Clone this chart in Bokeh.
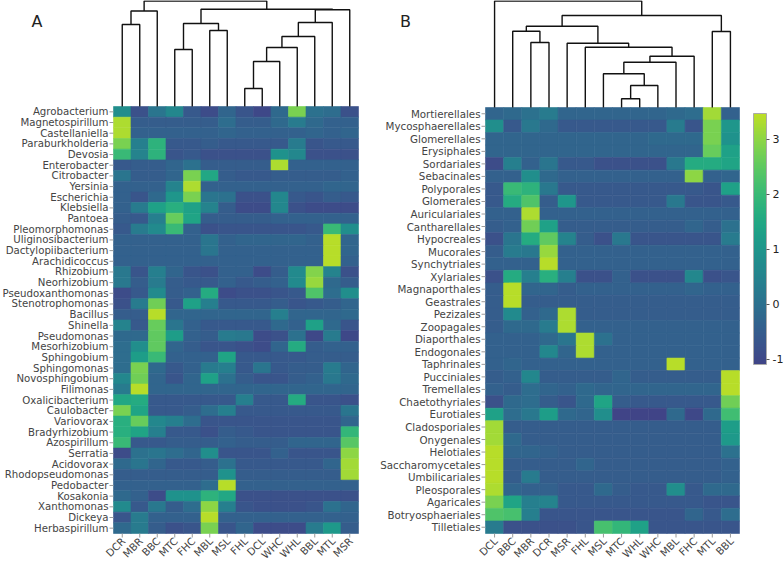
import math
from bokeh.plotting import figure
from bokeh.layouts import row
from bokeh.models import LinearColorMapper, ColorBar, FixedTicker, ColumnDataSource, Range1d
from bokeh.palettes import Viridis256
from bokeh.core.properties import value
from bokeh.embed import file_html
from bokeh.resources import INLINE

# ---------------- data: panel A (bacteria) ----------------
a_cols = ["DCR", "MBR", "BBC", "MTC", "FHC", "MBL", "MSL", "FHL", "DCL", "WHC", "WHL", "BBL", "MTL", "MSR"]
a_rows = ["Agrobacterium", "Magnetospirillum", "Castellaniella", "Paraburkholderia", "Devosia",
          "Enterobacter", "Citrobacter", "Yersinia", "Escherichia", "Klebsiella", "Pantoea",
          "Pleomorphomonas", "Uliginosibacterium", "Dactylopiibacterium", "Arachidicoccus",
          "Rhizobium", "Neorhizobium", "Pseudoxanthomonas", "Stenotrophomonas", "Bacillus",
          "Shinella", "Pseudomonas", "Mesorhizobium", "Sphingobium", "Sphingomonas",
          "Novosphingobium", "Filimonas", "Oxalicibacterium", "Caulobacter", "Variovorax",
          "Bradyrhizobium", "Azospirillum", "Serratia", "Acidovorax", "Rhodopseudomonas",
          "Pedobacter", "Kosakonia", "Xanthomonas", "Dickeya", "Herbaspirillum"]
a_vals = [
    [0.8, -0.8, 0.1, 0.6, -0.6, -0.9, -0.3, -0.7, -1.0, -0.2, 2.8, 0.0, -0.1, -0.8],
    [3.3, -0.5, -0.5, -0.5, -0.5, -0.5, -0.1, -0.5, -0.5, -0.2, 0.3, -0.2, -0.4, -0.4],
    [3.3, -0.4, -0.4, -0.4, -0.4, -0.4, -0.3, -0.4, -0.4, -0.4, -0.4, -0.3, -0.4, -0.3],
    [2.8, 0.4, 1.8, -0.6, -0.6, -0.5, -0.6, -0.6, -0.6, -0.6, 0.3, -0.7, -0.6, -0.6],
    [2.0, 0.5, 1.8, -0.7, -0.6, -0.8, -0.8, -0.8, -0.8, 0.9, 0.6, -0.8, -0.8, -0.8],
    [-0.6, -0.5, -0.5, -0.3, 0.0, -0.5, -0.5, -0.5, -0.5, 3.3, -0.4, -0.4, -0.4, -0.4],
    [0.1, -0.5, -0.5, -0.3, 2.8, 1.5, -0.5, -0.6, -0.6, -0.5, -0.5, -0.5, -0.5, -0.4],
    [-0.4, -0.4, -0.4, 0.5, 3.3, -0.4, -0.4, -0.4, -0.4, -0.4, -0.4, -0.4, -0.3, -0.3],
    [-0.4, -0.7, -0.2, 1.0, 2.8, 0.1, 0.0, -0.8, -0.8, 0.6, -0.6, -0.7, -0.5, -0.6],
    [-0.4, 0.3, 1.3, 1.7, 1.3, 0.5, -0.5, -0.9, -0.9, 0.6, -0.8, -0.9, -0.9, -0.9],
    [-0.5, -0.6, 0.4, 2.6, 1.4, -0.5, -0.5, -0.5, -0.5, -0.4, -0.4, -0.4, -0.4, -0.4],
    [-0.6, 0.3, 0.7, 2.0, -0.4, -0.8, -0.7, -0.7, -0.7, -0.7, -0.7, -0.6, 2.0, 0.8],
    [-0.4, -0.4, -0.4, -0.4, -0.4, 0.1, -0.4, -0.3, -0.3, -0.3, -0.3, -0.4, 3.4, -0.3],
    [-0.4, -0.4, -0.4, -0.4, -0.4, 0.1, -0.4, -0.4, -0.4, -0.4, -0.4, -0.4, 3.4, -0.3],
    [-0.4, -0.4, -0.4, -0.4, -0.4, -0.4, -0.4, -0.4, -0.4, -0.4, -0.4, -0.4, 3.4, -0.4],
    [0.2, -0.7, 0.4, -0.3, -0.7, -0.8, -0.4, -0.4, -0.9, -0.5, 0.7, 2.9, 0.5, -0.8],
    [0.2, -0.5, 0.3, -0.5, -0.6, -0.6, -0.4, -0.6, -0.5, -0.4, 0.7, 3.1, -0.2, -0.5],
    [-0.9, -0.6, 0.7, -0.5, -0.4, 1.6, -0.9, -0.8, -0.8, -0.7, -0.6, 2.3, -0.1, 0.8],
    [-0.8, 0.3, 2.7, -0.6, 1.3, 0.4, -0.6, -0.6, -0.6, -0.5, -0.7, -0.6, -0.5, -0.3],
    [-0.5, -0.5, 3.4, -0.3, -0.3, -0.3, -0.3, -0.3, -0.3, 0.4, -0.3, -0.3, -0.3, -0.2],
    [0.5, -0.6, 2.6, 0.1, -0.4, -0.6, -0.6, -0.6, -0.6, -0.2, -0.4, 1.3, -0.2, -0.7],
    [-0.2, -0.2, 2.5, 1.2, -0.4, -0.5, 0.3, 0.2, -0.9, -0.8, 0.0, -1.0, 0.3, -1.0],
    [-0.1, 0.8, 2.5, -0.3, -0.5, -0.7, -0.7, -0.8, -0.9, -0.3, 1.6, -0.5, -0.4, -0.4],
    [-0.1, 1.2, 2.0, -0.4, -0.4, -0.4, 1.4, -0.6, -0.6, -0.6, -0.6, -0.5, -0.5, -0.5],
    [-0.1, 2.8, -0.2, -0.6, -0.4, 0.3, 0.4, -0.6, 0.1, -0.6, -0.5, -0.5, 0.3, -0.3],
    [0.6, 2.7, -0.3, -0.7, -0.3, 1.3, 0.0, -0.5, -0.7, -0.7, -0.5, -0.4, 0.2, -0.2],
    [0.3, 3.4, -0.3, -0.3, -0.3, -0.3, -0.3, -0.3, -0.3, -0.3, -0.3, -0.3, -0.3, -0.3],
    [1.5, 1.6, -0.6, -0.6, -0.6, -0.6, -0.6, 0.4, -0.6, -0.6, 1.6, -0.7, -0.7, -0.8],
    [2.8, 1.4, -0.6, -0.6, -0.5, -0.1, 0.4, -0.6, -0.6, -0.6, -0.6, -0.6, -0.6, 0.1],
    [1.7, 2.6, 0.6, 0.4, -0.1, -0.7, -0.7, -0.7, -0.7, -0.7, -0.7, -0.7, -0.7, -0.3],
    [1.7, 1.4, 0.4, -0.6, -0.6, -0.8, -0.5, -0.6, -0.7, -0.7, -0.7, -0.7, -0.7, 1.9],
    [2.0, -0.6, -0.6, -0.5, -0.5, -0.5, -0.4, -0.5, -0.5, -0.5, -0.3, -0.3, -0.3, 2.4],
    [-0.9, 0.0, 0.1, -0.1, -0.3, 0.8, -0.7, -0.7, -0.7, -0.4, -0.7, -0.7, -0.7, 3.0],
    [-0.2, 0.1, -0.3, -0.6, -0.6, -0.5, 0.0, -0.6, -0.6, -0.6, -0.6, -0.6, -0.3, 3.2],
    [-0.5, -0.5, -0.5, -0.5, -0.5, -0.5, 0.9, -0.5, -0.5, -0.5, -0.5, -0.5, -0.5, 3.2],
    [-0.4, -0.4, -0.4, -0.4, -0.4, -0.1, 3.4, -0.4, -0.4, -0.4, -0.4, -0.4, -0.4, -0.4],
    [-0.2, -0.4, -0.9, 0.9, 0.9, 1.8, 1.5, -0.8, -0.8, -0.8, -0.8, -0.8, -0.8, -0.8],
    [0.7, -0.6, 0.2, -0.5, -0.1, 3.0, 0.4, -0.7, -0.8, -0.8, -0.8, -0.7, 0.0, -0.3],
    [-0.7, 0.3, -0.4, -0.4, -0.4, 3.4, -0.4, -0.4, -0.4, -0.4, -0.4, -0.4, -0.4, -0.4],
    [-0.2, 0.3, -0.5, -0.8, -0.7, 2.8, -0.7, -0.3, -0.9, -0.9, -0.9, 0.3, 1.1, -0.5],
]
# dendrogram merges: (left, right, height); "nK" refers to the K-th merge
a_links = [
    ("DCR", "MBR", 82), ("n0", "BBC", 95.5), ("MTC", "FHC", 57), ("MBL", "MSL", 76),
    ("n2", "n3", 83), ("FHL", "DCL", 18), ("n5", "WHC", 45), ("n6", "WHL", 59),
    ("n7", "BBL", 70), ("n8", "MTL", 84), ("n9", "MSR", 96.7), ("n4", "n10", 97.3),
    ("n1", "n11", 105.5),
]

# ---------------- data: panel B (fungi) ----------------
b_cols = ["DCL", "BBC", "MBR", "DCR", "MSR", "FHL", "MSL", "MTC", "WHL", "WHC", "MBL", "FHC", "MTL", "BBL"]
b_rows = ["Mortierellales", "Mycosphaerellales", "Glomerellales", "Erysiphales", "Sordariales",
          "Sebacinales", "Polyporales", "Glomerales", "Auriculariales", "Cantharellales",
          "Hypocreales", "Mucorales", "Synchytriales", "Xylariales", "Magnaporthales",
          "Geastrales", "Pezizales", "Zoopagales", "Diaporthales", "Endogonales", "Taphrinales",
          "Pucciniales", "Tremellales", "Chaetothyriales", "Eurotiales", "Cladosporiales",
          "Onygenales", "Helotiales", "Saccharomycetales", "Umbilicariales", "Pleosporales",
          "Agaricales", "Botryosphaeriales", "Tilletiales"]
b_vals = [
    [-0.3, -0.2, 0.0, 0.3, -0.3, -0.3, -0.3, -0.3, -0.3, -0.3, -0.2, -0.1, 3.2, -0.4],
    [0.8, -0.6, 0.2, -0.2, -0.6, -0.6, -0.6, -0.6, -0.6, -0.6, 0.3, -0.7, 2.8, 1.0],
    [-0.3, -0.3, -0.3, -0.3, -0.3, -0.3, -0.3, -0.3, -0.3, -0.2, -0.2, -0.2, 2.8, 0.9],
    [-0.3, -0.3, -0.3, -0.3, -0.3, -0.3, -0.3, -0.3, -0.3, -0.3, -0.3, -0.3, 2.6, 1.3],
    [-0.9, 0.4, -0.4, 0.1, -0.6, -0.6, -0.8, -0.8, -0.8, -0.8, 0.2, 1.6, 1.6, 1.4],
    [-0.4, -0.4, 0.8, -0.2, -0.4, -0.4, -0.4, -0.4, -0.4, -0.4, -0.4, 3.0, -0.4, -0.3],
    [-0.6, 2.0, 1.8, 0.2, -0.6, -0.6, -0.6, -0.6, -0.6, -0.6, -0.6, -0.6, -0.7, 1.3],
    [-0.6, 1.6, 2.3, -0.5, 1.0, -0.6, -0.6, -0.6, -0.6, -0.6, 0.2, -0.7, -0.7, -0.6],
    [-0.4, -0.4, 3.3, -0.4, -0.4, -0.4, -0.4, -0.4, -0.4, -0.4, -0.4, -0.4, -0.4, -0.4],
    [-0.5, -0.4, 2.7, 1.3, -0.5, -0.5, -0.5, -0.5, -0.5, -0.5, -0.5, -0.3, -0.5, 0.0],
    [-0.8, 0.1, 1.6, 2.5, 0.5, -0.5, -0.8, 0.2, -0.7, -0.7, -0.7, -0.7, -0.7, 0.3],
    [-0.5, 0.3, 0.2, 3.1, -0.4, -0.4, -0.4, -0.4, -0.4, -0.4, -0.4, -0.4, -0.4, -0.4],
    [-0.4, -0.4, -0.4, 3.4, -0.4, -0.4, -0.4, -0.4, -0.4, -0.4, -0.4, -0.4, -0.4, -0.4],
    [-0.8, 1.6, 0.4, 1.7, 0.4, -0.8, -0.8, -0.4, -0.8, -0.8, -0.8, 0.6, -0.8, -0.7],
    [-0.5, 3.4, -0.3, -0.3, -0.5, -0.4, -0.4, -0.4, -0.4, -0.4, -0.4, -0.3, -0.4, -0.4],
    [-0.5, 3.4, -0.5, -0.5, -0.5, -0.5, -0.5, -0.5, -0.5, -0.5, -0.5, -0.5, -0.5, -0.5],
    [-0.5, 0.7, -0.4, -0.2, 3.3, -0.5, -0.5, -0.5, -0.5, -0.5, -0.5, -0.5, -0.5, -0.5],
    [-0.5, -0.2, -0.2, 0.3, 3.3, -0.4, -0.4, -0.4, -0.4, -0.4, -0.4, -0.4, -0.4, -0.4],
    [-0.4, -0.4, -0.4, -0.2, 0.1, 3.3, 0.0, -0.4, -0.4, -0.4, -0.4, -0.4, -0.4, -0.4],
    [-0.4, -0.4, -0.4, 0.6, -0.3, 3.3, -0.4, -0.4, -0.4, -0.4, -0.4, -0.4, -0.4, -0.4],
    [-0.4, -0.3, -0.4, -0.4, -0.4, -0.4, -0.4, -0.4, -0.4, -0.4, 3.4, -0.4, -0.4, -0.4],
    [-0.5, -0.4, 0.6, -0.5, -0.5, -0.5, -0.5, -0.3, -0.5, -0.5, -0.5, -0.5, -0.5, 3.4],
    [-0.4, -0.5, -0.1, -0.3, -0.4, -0.2, -0.3, -0.3, -0.3, -0.3, -0.3, -0.3, -0.3, 3.4],
    [-0.8, -0.2, -0.1, -0.5, -0.7, -0.2, 1.4, -0.5, -0.6, -0.6, -0.6, -0.6, -0.6, 2.7],
    [1.3, -0.1, 0.2, 1.2, -0.2, -0.3, 0.8, -1.1, -1.1, -1.1, -0.2, -1.0, -0.2, 2.1],
    [3.2, -0.5, -0.5, -0.5, -0.5, -0.5, -0.5, -0.5, -0.5, -0.5, -0.5, -0.5, -0.5, 1.2],
    [3.2, -0.2, -0.5, -0.5, -0.5, -0.5, -0.5, -0.5, -0.5, -0.5, -0.5, -0.5, -0.5, 1.1],
    [3.4, -0.3, -0.3, -0.4, -0.5, -0.5, -0.5, -0.5, -0.5, -0.5, -0.5, -0.5, -0.5, 0.0],
    [3.4, -0.5, -0.5, -0.5, -0.5, -0.3, -0.5, -0.5, -0.5, -0.5, -0.5, -0.5, -0.5, -0.4],
    [3.4, -0.5, 0.3, -0.5, -0.5, -0.5, -0.5, -0.5, -0.5, -0.5, -0.5, -0.5, -0.5, -0.4],
    [3.3, -0.3, -0.4, -0.4, -0.6, -0.6, -0.2, -0.5, -0.6, -0.6, 0.8, -0.6, -0.2, -0.2],
    [2.8, 1.4, 0.4, 0.5, -0.6, -0.6, -0.6, -0.6, -0.6, -0.6, -0.6, -0.6, -0.7, -0.7],
    [2.3, 2.2, 0.4, -0.7, -0.7, -0.7, -0.7, -0.7, -0.7, -0.7, -0.7, -0.3, -0.6, -0.1],
    [0.3, -0.8, -0.8, -0.8, -0.8, -0.7, 2.2, 1.9, 1.3, -0.7, -0.7, -0.7, -0.7, -0.7],
]
b_links = [
    ("MTC", "WHL", 8.7), ("n0", "WHC", 22), ("MSL", "n1", 33.7), ("n2", "MBL", 45.3),
    ("n3", "FHC", 51.3), ("FHL", "n4", 60.3), ("MSR", "n5", 64.3), ("MBR", "DCR", 65),
    ("BBC", "n7", 76.3), ("n8", "n6", 81.3), ("MTL", "BBL", 76), ("n9", "n10", 92),
    ("DCL", "n11", 106.5),
]

# colour scale
cb_low, cb_high = -1.1, 3.47
cb_ticks = [-1, 0, 1, 2, 3]
cb_labels = {-1: "-1", 0: "0", 1: "1", 2: "2", 3: "3"}

# ---------------- layout constants (pixels) ----------------
H = 563
FONT = value("DejaVu Sans")
LABEL_COLOR = "#444444"
TICK_COLOR = "#9a9a9a"

palette = Viridis256[52:231]
mapper = LinearColorMapper(palette=palette, low=cb_low, high=cb_high)


def dendro_segments(cols, links):
    pos = {c: (i + 0.5, 0.0) for i, c in enumerate(cols)}
    xs, ys = [], []
    for k, (l, r, h) in enumerate(links):
        xl, hl = pos[l]
        xr, hr = pos[r]
        xs.append([xl, xl, xr, xr])
        ys.append([hl, h, h, hr])
        pos["n%d" % k] = ((xl + xr) / 2.0, h)
    return xs, ys


def make_panel(cols, rows, vals, links, letter, width, heat_left, heat_right,
               heat_top, heat_bottom, label_size, letter_xy):
    n = len(rows)
    m = len(cols)
    cw = (heat_right - heat_left) / m          # px per column
    rh = (heat_bottom - heat_top) / n          # px per row
    p = figure(width=width, height=H,
               x_range=Range1d(-heat_left / cw, (width - heat_left) / cw),
               y_range=Range1d(-(H - heat_bottom) / rh, n + heat_top / rh),
               output_backend="svg", toolbar_location=None,
               min_border_left=0, min_border_right=0, min_border_top=0, min_border_bottom=0)
    p.outline_line_color = None
    p.grid.visible = False
    p.axis.visible = False
    p.background_fill_color = "white"
    p.border_fill_color = "white"

    xs, ys, vs = [], [], []
    for i, rname in enumerate(rows):
        for j, c in enumerate(cols):
            xs.append(j + 0.5)
            ys.append(n - i - 0.5)
            vs.append(vals[i][j])
    src = ColumnDataSource(dict(x=xs, y=ys, v=vs))
    p.rect(x="x", y="y", width=1, height=1, source=src,
           fill_color={"field": "v", "transform": mapper},
           line_color={"field": "v", "transform": mapper}, line_width=0.6)

    # dendrogram above the heatmap (heights read in pixels above the heatmap)
    dx, dy = dendro_segments(cols, links)
    dy = [[n + v / rh for v in seg] for seg in dy]
    p.multi_line(xs=dx, ys=dy, line_color="#111111", line_width=1.4)

    # y tick marks and labels
    ry = [n - i - 0.5 for i in range(n)]
    p.segment(x0=[-4.0 / cw] * n, y0=ry, x1=[0] * n, y1=ry, line_color=TICK_COLOR, line_width=1)
    p.text(x=[-5.0 / cw] * n, y=ry, text=rows, text_align="right", text_baseline="middle",
           text_font=FONT, text_font_size=label_size, text_color=LABEL_COLOR)

    # x tick marks and rotated labels
    cx = [j + 0.5 for j in range(m)]
    p.segment(x0=cx, y0=[0] * m, x1=cx, y1=[-4.0 / rh] * m, line_color=TICK_COLOR, line_width=1)
    p.text(x=[c + 1.0 / cw for c in cx], y=[-5.5 / rh] * m, text=cols, angle=math.pi / 4,
           text_align="right", text_baseline="middle",
           text_font=FONT, text_font_size="10.3px", text_color=LABEL_COLOR)

    # panel letter
    lx, ly = letter_xy
    p.text(x=[(lx - heat_left) / cw], y=[n + (heat_top - ly) / rh], text=[letter],
           text_align="center", text_baseline="middle",
           text_font=FONT, text_font_size="16px", text_color="#222222")
    return p


WA = 370
pA = make_panel(a_cols, a_rows, a_vals, a_links, "A", width=WA, heat_left=113, heat_right=358,
                heat_top=106, heat_bottom=533, label_size="10.2px", letter_xy=(36.5, 20.5))
pB = make_panel(b_cols, b_rows, b_vals, b_links, "B", width=784 - WA, heat_left=485 - WA,
                heat_right=739 - WA, heat_top=107, heat_bottom=533, label_size="10.3px",
                letter_xy=(405 - WA, 20.5))

cb = ColorBar(color_mapper=mapper, ticker=FixedTicker(ticks=cb_ticks),
              major_label_overrides=cb_labels,
              width=13, height=251, location=(753 - WA, H - 364), padding=0,
              major_tick_in=0, major_tick_out=3, major_tick_line_color="#555555",
              label_standoff=3, major_label_text_font="DejaVu Sans",
              major_label_text_font_size="11px", major_label_text_color="#222222",
              bar_line_color="#aaaaaa", border_line_color=None,
              background_fill_color=None)
pB.add_layout(cb, "center")

layout = row(pA, pB)
open("out.html", "w").write(file_html(layout, INLINE))
